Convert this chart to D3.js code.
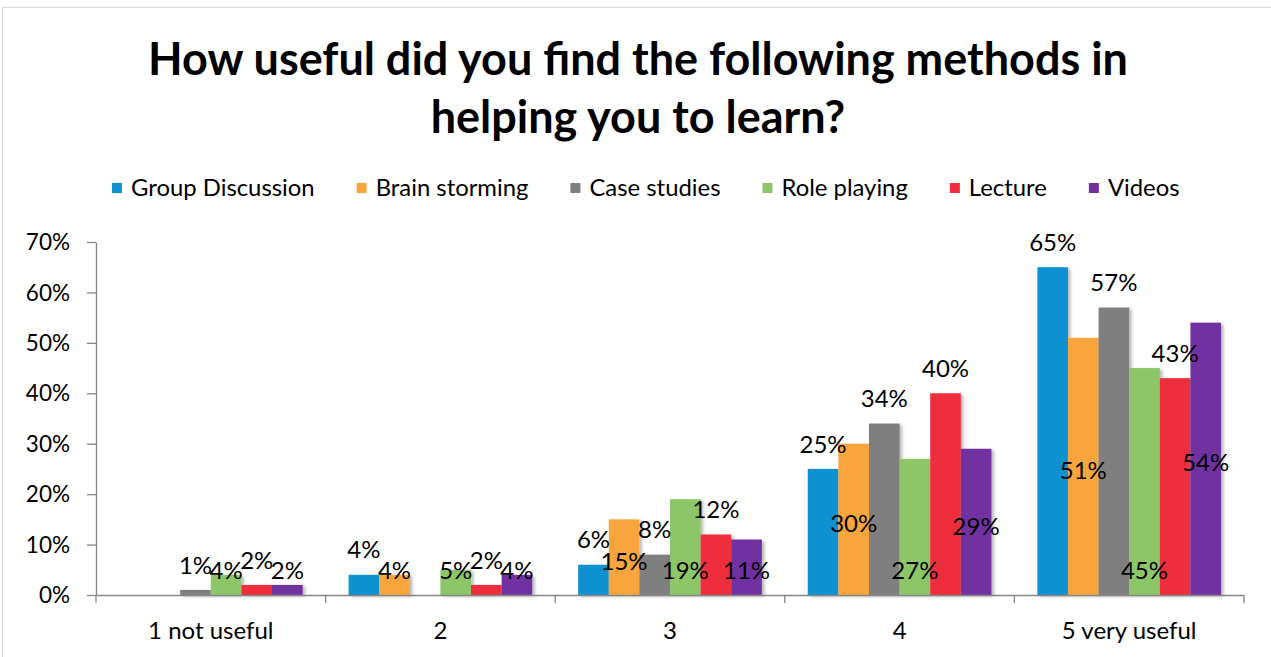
<!DOCTYPE html>
<html>
<head>
<meta charset="utf-8">
<script src="https://cdn.jsdelivr.net/npm/d3@7"></script>
<style>
  html, body { margin: 0; padding: 0; background: #fff; }
  svg { display: block; }
  text { font-family: Lato, "Open Sans", sans-serif; fill: #000; }
</style>
</head>
<body>
<svg id="chart" width="1271" height="657"></svg>
<script>
// ---- data ----
const categories = ["1 not useful", "2", "3", "4", "5 very useful"];
const seriesNames = ["Group Discussion", "Brain storming", "Case studies", "Role playing", "Lecture", "Videos"];
const groupDiscussion = [0, 4, 6, 25, 65];
const brainStorming   = [0, 4, 15, 30, 51];
const caseStudies     = [1, 0, 8, 34, 57];
const rolePlaying     = [4, 5, 19, 27, 45];
const lecture         = [2, 2, 12, 40, 43];
const videos          = [2, 4, 11, 29, 54];
const yTickValues = [0, 10, 20, 30, 40, 50, 60, 70];
const titleLines = ["How useful did you find the following methods in", "helping you to learn?"];

// ---- styling ----
const colors = ["#1191D1", "#F9A53E", "#7F7F7F", "#8CC667", "#EE2D3D", "#7030A0"];
// where each series places its value label
const labelPlacement = ["outside", "center", "outside", "base", "outside", "center"];
const seriesValues = [groupDiscussion, brainStorming, caseStudies, rolePlaying, lecture, videos];

const svg = d3.select("#chart");
const W = 1271, H = 657;
const plot = { left: 96, right: 1244, top: 242, bottom: 595 };

// chart area border
svg.append("rect")
  .attr("x", 2.5).attr("y", 7.5).attr("width", W + 20).attr("height", H + 20)
  .attr("fill", "#fff").attr("stroke", "#D9D9D9").attr("stroke-width", 1);

// soft shadow for the bars
const defs = svg.append("defs");
const f = defs.append("filter").attr("id", "barShadow")
  .attr("x", "-20%").attr("y", "-10%").attr("width", "150%").attr("height", "130%");
f.append("feDropShadow").attr("dx", 2.5).attr("dy", 1.5).attr("stdDeviation", 1.8)
  .attr("flood-color", "#000").attr("flood-opacity", 0.28);

// helper: fit text to a given width by adjusting font size
function fitSize(sel, targetWidth) {
  const node = sel.node();
  const cur = parseFloat(sel.attr("font-size"));
  const w = node.getComputedTextLength();
  sel.attr("font-size", (cur * targetWidth / w).toFixed(2));
}

// ---- title ----
const t1 = svg.append("text").attr("x", 638).attr("y", 75)
  .attr("text-anchor", "middle").attr("font-weight", 700).attr("font-size", 40)
  .text(titleLines[0]);
fitSize(t1, 980);
svg.append("text").attr("x", 638).attr("y", 133)
  .attr("text-anchor", "middle").attr("font-weight", 700)
  .attr("font-size", t1.attr("font-size"))
  .text(titleLines[1]);

// ---- scales ----
const x0 = d3.scaleBand().domain(categories).range([plot.left, plot.right])
  .paddingInner(0).paddingOuter(0);
const x1 = d3.scaleBand().domain(seriesNames).range([0, x0.bandwidth()])
  .paddingInner(0).paddingOuter(0.75);
const y = d3.scaleLinear().domain([0, 70]).range([plot.bottom, plot.top]);

// ---- bars ----
const rows = [];
categories.forEach((c, ci) => {
  seriesNames.forEach((s, si) => {
    rows.push({ cat: c, series: s, si, value: seriesValues[si][ci] });
  });
});

svg.append("g").attr("filter", "url(#barShadow)")
  .selectAll("rect").data(rows.filter(d => d.value > 0)).join("rect")
  .attr("x", d => x0(d.cat) + x1(d.series))
  .attr("y", d => y(d.value))
  .attr("width", x1.bandwidth())
  .attr("height", d => y(0) - y(d.value))
  .attr("fill", d => colors[d.si]);

// ---- axes ----
const axisColor = "#868686";
const yAxis = svg.append("g").attr("transform", `translate(${plot.left},0)`)
  .call(d3.axisLeft(y).tickValues(yTickValues).tickFormat(d => d + "%")
    .tickSize(9).tickSizeOuter(0).tickPadding(17));
yAxis.select(".domain").attr("stroke", axisColor).attr("stroke-width", 1.3);
yAxis.selectAll(".tick line").attr("stroke", axisColor).attr("stroke-width", 1.3);
yAxis.selectAll(".tick text").attr("font-size", 22.5).attr("fill", "#000")
  .attr("font-family", "Lato, sans-serif").attr("dy", "0.34em");

const xAxis = svg.append("g").attr("transform", `translate(0,${plot.bottom})`)
  .call(d3.axisBottom(x0).tickSize(0).tickSizeOuter(0).tickPadding(27));
xAxis.select(".domain").attr("stroke", axisColor).attr("stroke-width", 1.3);
xAxis.selectAll(".tick text").attr("font-size", 24).attr("fill", "#000")
  .attr("font-family", "Lato, sans-serif");
// category boundary tick marks
const boundaries = categories.map(c => x0(c)).concat([plot.right]);
xAxis.selectAll("line.bound").data(boundaries).join("line")
  .attr("class", "bound")
  .attr("x1", d => d).attr("x2", d => d)
  .attr("y1", 0).attr("y2", 8)
  .attr("stroke", axisColor).attr("stroke-width", 1.3);

// ---- value labels ----
function labelY(d) {
  const top = y(d.value), base = y(0);
  const p = labelPlacement[d.si];
  if (p === "outside") return top - 25;
  if (p === "base") return base - 25;
  return Math.min((top + base) / 2 + 4, base - 25);
}
svg.append("g").selectAll("text").data(rows.filter(d => d.value > 0)).join("text")
  .attr("x", d => x0(d.cat) + x1(d.series) + x1.bandwidth() / 2)
  .attr("y", d => labelY(d))
  .attr("dy", "0.36em")
  .attr("text-anchor", "middle")
  .attr("font-size", 24)
  .text(d => d.value + "%");

// ---- legend ----
const legend = svg.append("g");
const legendY = 188;
const legendLeft = 112, legendRight = 1180, gap = 42, swatchGap = 19;
const items = seriesNames.map((s, i) => {
  const g = legend.append("g");
  g.append("rect").attr("x", 0).attr("y", legendY - 5).attr("width", 10).attr("height", 10)
    .attr("fill", colors[i]);
  const tx = g.append("text").attr("x", swatchGap).attr("y", legendY).attr("dy", "0.35em")
    .attr("font-size", 20).text(s);
  return { g, tx };
});
// scale legend text so the row spans its allotted width
const textW = d3.sum(items, it => it.tx.node().getComputedTextLength());
const avail = (legendRight - legendLeft) - items.length * swatchGap - gap * (items.length - 1);
const legendFont = 20 * avail / textW;
let lx = legendLeft;
items.forEach(it => {
  it.tx.attr("font-size", legendFont.toFixed(2));
  it.g.attr("transform", `translate(${lx},0)`);
  lx += swatchGap + it.tx.node().getComputedTextLength() + gap;
});
</script>
</body>
</html>
